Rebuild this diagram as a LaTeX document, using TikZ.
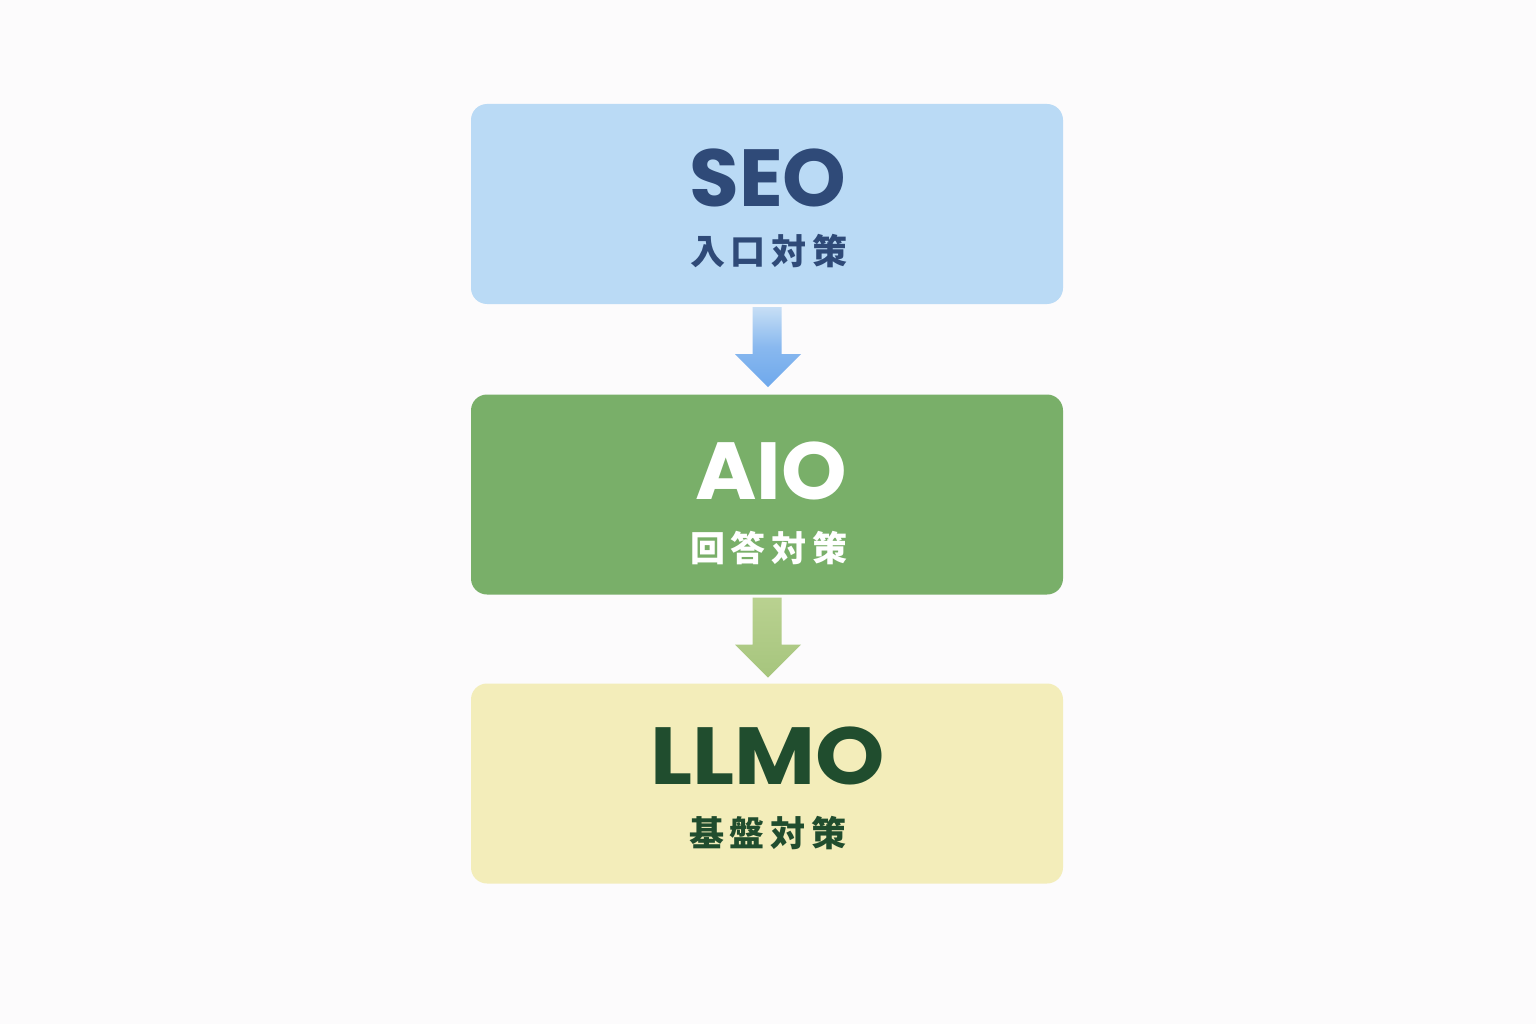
\documentclass[tikz,border=0pt]{standalone}
\usepackage{fontspec}
\setmainfont{Poppins}
\newfontfamily\cjk{Noto Sans CJK JP}
\usetikzlibrary{calc}
\definecolor{bg}{HTML}{FCFBFC}
\definecolor{seofill}{HTML}{BADAF5}
\definecolor{seotext}{HTML}{2F4A78}
\definecolor{aiofill}{HTML}{79AF69}
\definecolor{llmofill}{HTML}{F3EDBA}
\definecolor{llmotext}{HTML}{204D2E}
\definecolor{arrAtop}{HTML}{C6DEF5}
\definecolor{arrAbot}{HTML}{6EA8EC}
\definecolor{arrBtop}{HTML}{B9D190}
\definecolor{arrBbot}{HTML}{A6C57D}
\newcommand{\jk}[4]{#1\kern6pt#2\kern6pt#3\kern6pt#4}
\tikzset{
  stagebox/.style={rounded corners=16pt, minimum width=592pt, minimum height=200pt, inner sep=0pt, draw=none},
  titletext/.style={anchor=base, inner sep=0pt, font=\fontsize{81}{81}\selectfont\bfseries},
  subtext/.style={anchor=base, inner sep=0pt, font=\fontsize{35}{35}\selectfont\cjk\bfseries},
}
\begin{document}
\begin{tikzpicture}[x=1pt,y=-1pt]
\fill[bg] (0,0) rectangle (1536,1024);
\useasboundingbox (0,0) rectangle (1536,1024);
\node[stagebox, fill=seofill] (seo) at (767,204) {};
\node[stagebox, fill=aiofill] (aio) at (767,494.5) {};
\node[stagebox, fill=llmofill] (llmo) at (767,783.5) {};
\node[titletext, text=seotext] (seot) at (768,207) {SEO};
\node[subtext, text=seotext] (seos) at (769,265) {\jk{入}{口}{対}{策}};
\node[titletext, text=white] (aiot) at (771,499) {\scalebox{1.03}[1]{AIO}};
\node[subtext, text=white] (aios) at (769,561) {\jk{回}{答}{対}{策}};
\node[titletext, text=llmotext] (llmot) at (768,784) {\scalebox{1.09}[1]{LLMO}};
\node[subtext, text=llmotext] (llmos) at (768,846) {\jk{基}{盤}{対}{策}};
\shade[top color=arrAtop, bottom color=arrAbot, middle color=arrAbot!70!arrAtop]
  ($(seo.south)+(-14.5,3)$) -- ($(seo.south)+(14.5,3)$) -- ($(seo.south)+(14.5,50)$)
  -- ($(seo.south)+(34,50)$) -- ($(seo.south)+(1,83)$) -- ($(seo.south)+(-32,50)$)
  -- ($(seo.south)+(-14.5,50)$) -- cycle;
\shade[top color=arrBtop, bottom color=arrBbot]
  ($(aio.south)+(-14.5,3)$) -- ($(aio.south)+(14.5,3)$) -- ($(aio.south)+(14.5,50)$)
  -- ($(aio.south)+(34,50)$) -- ($(aio.south)+(1,83)$) -- ($(aio.south)+(-32,50)$)
  -- ($(aio.south)+(-14.5,50)$) -- cycle;
\end{tikzpicture}
\end{document}
